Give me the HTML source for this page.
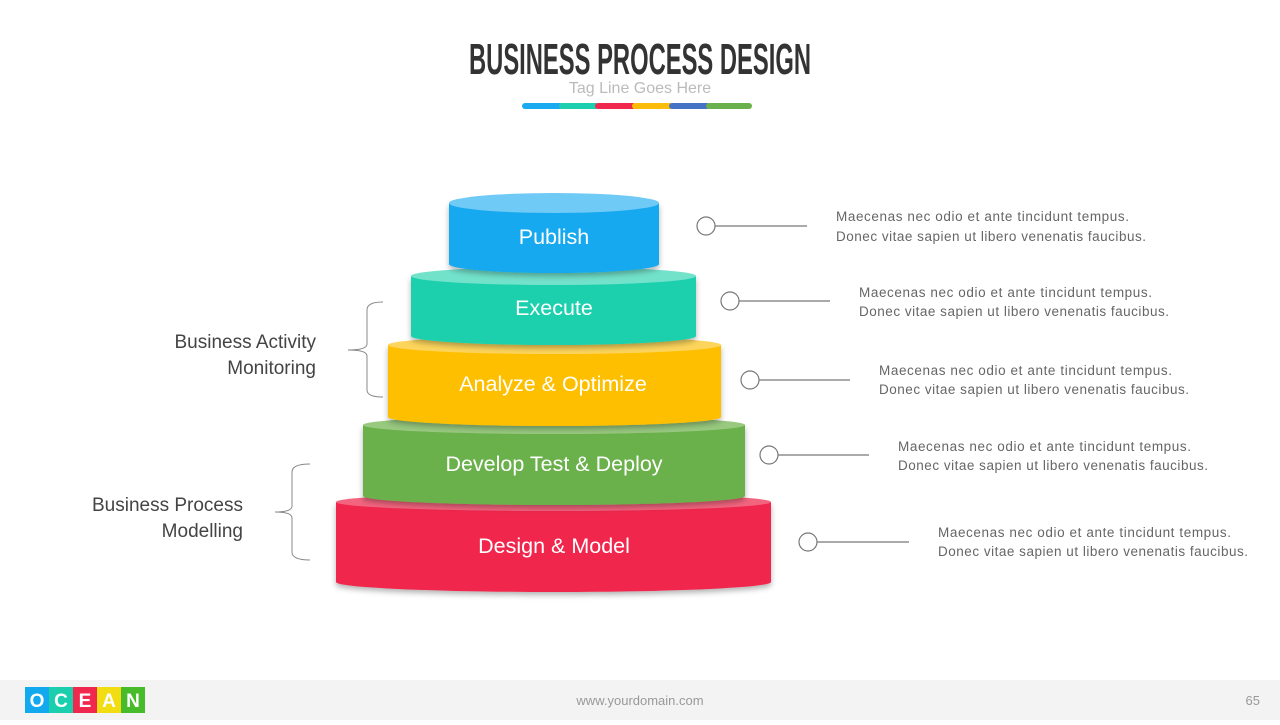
<!DOCTYPE html>
<html><head><meta charset="utf-8"><style>
body{margin:0;width:1280px;height:720px;background:#fff;overflow:hidden;font-family:"Liberation Sans",sans-serif}
</style></head><body>
<svg width="1280" height="720" viewBox="0 0 1280 720" xmlns="http://www.w3.org/2000/svg" font-family="Liberation Sans, DejaVu Sans, sans-serif">
<defs>
<filter id="sh" x="-10%" y="-20%" width="120%" height="150%"><feDropShadow dx="0" dy="3" stdDeviation="3" flood-color="#000" flood-opacity="0.3"/></filter>
</defs>
<text x="640" y="74" text-anchor="middle" font-size="44" font-weight="bold" fill="#333" textLength="342" lengthAdjust="spacingAndGlyphs">BUSINESS PROCESS DESIGN</text>
<text x="640" y="93" text-anchor="middle" font-size="16" fill="#bbb">Tag Line Goes Here</text>
<g stroke-width="6" stroke-linecap="round">
<line x1="525" y1="106" x2="560" y2="106" stroke="#1ba9ef"/>
<line x1="562" y1="106" x2="596" y2="106" stroke="#1dcfae"/>
<line x1="598" y1="106" x2="633" y2="106" stroke="#f0284d"/>
<line x1="635" y1="106" x2="670" y2="106" stroke="#fbbd09"/>
<line x1="672" y1="106" x2="707" y2="106" stroke="#4472c4"/>
<line x1="709" y1="106" x2="749" y2="106" stroke="#6ab04c"/>
</g>
<g filter="url(#sh)">
<path d="M336,502 L336,582 A217.5,10 0 0 0 771,582 L771,502 Z" fill="#f0284d"/>
</g>
<ellipse cx="553.5" cy="502" rx="217.5" ry="9" fill="#f3657f"/>
<g filter="url(#sh)">
<path d="M363,425 L363,496 A191,9 0 0 0 745,496 L745,425 Z" fill="#6ab04c"/>
</g>
<ellipse cx="554" cy="425" rx="191" ry="9" fill="#98c97f"/>
<g filter="url(#sh)">
<path d="M388,345 L388,417 A166.5,9 0 0 0 721,417 L721,345 Z" fill="#fdbf06"/>
</g>
<ellipse cx="554.5" cy="345" rx="166.5" ry="9" fill="#fdd55c"/>
<g filter="url(#sh)">
<path d="M411,276 L411,336 A142.5,9 0 0 0 696,336 L696,276 Z" fill="#1bd0ae"/>
</g>
<ellipse cx="553.5" cy="276" rx="142.5" ry="9" fill="#72e2cb"/>
<g filter="url(#sh)">
<path d="M449,203 L449,264 A105,9 0 0 0 659,264 L659,203 Z" fill="#12a9ef"/>
</g>
<ellipse cx="554" cy="203" rx="105" ry="10" fill="#6fcaf6"/>
<g fill="#fff" font-size="21.5" text-anchor="middle">
<text x="554" y="244">Publish</text>
<text x="554" y="315">Execute</text>
<text x="553" y="391">Analyze &amp; Optimize</text>
<text x="554" y="471">Develop Test &amp; Deploy</text>
<text x="554" y="553">Design &amp; Model</text>
</g>
<g fill="#fff" stroke="#777" stroke-width="1.2">
<line x1="715" y1="226" x2="807" y2="226"/><circle cx="706" cy="226" r="9"/>
<line x1="739" y1="301" x2="830" y2="301"/><circle cx="730" cy="301" r="9"/>
<line x1="759" y1="380" x2="850" y2="380"/><circle cx="750" cy="380" r="9"/>
<line x1="778" y1="455" x2="869" y2="455"/><circle cx="769" cy="455" r="9"/>
<line x1="817" y1="542" x2="909" y2="542"/><circle cx="808" cy="542" r="9"/>
</g>
<g fill="#666" font-size="13.5">
<text x="836" y="221" textLength="293">Maecenas nec odio et ante tincidunt tempus.</text><text x="836" y="241" textLength="310">Donec vitae sapien ut libero venenatis faucibus.</text>
<text x="859" y="297" textLength="293">Maecenas nec odio et ante tincidunt tempus.</text><text x="859" y="316" textLength="310">Donec vitae sapien ut libero venenatis faucibus.</text>
<text x="879" y="375" textLength="293">Maecenas nec odio et ante tincidunt tempus.</text><text x="879" y="394" textLength="310">Donec vitae sapien ut libero venenatis faucibus.</text>
<text x="898" y="451" textLength="293">Maecenas nec odio et ante tincidunt tempus.</text><text x="898" y="470" textLength="310">Donec vitae sapien ut libero venenatis faucibus.</text>
<text x="938" y="537" textLength="293">Maecenas nec odio et ante tincidunt tempus.</text><text x="938" y="556" textLength="310">Donec vitae sapien ut libero venenatis faucibus.</text>
</g>
<g fill="none" stroke="#888" stroke-width="1">
<path d="M383,302 Q367,302 367,310 L367,344 Q367,350 348,350 Q367,350 367,356 L367,390 Q367,397 383,397"/>
<path d="M310,464 Q292,464 292,472 L292,506 Q292,512 275,512 Q292,512 292,518 L292,552 Q292,560 310,560"/>
</g>
<g fill="#444" font-size="19" text-anchor="end">
<text x="316" y="348">Business Activity</text><text x="316" y="374">Monitoring</text>
<text x="243" y="511">Business Process</text><text x="243" y="537">Modelling</text>
</g>
<rect x="0" y="680" width="1280" height="40" fill="#f3f3f3"/>
<rect x="25" y="687" width="24" height="26" fill="#12a9ef"/>
<rect x="49" y="687" width="24" height="26" fill="#1bcfae"/>
<rect x="73" y="687" width="24" height="26" fill="#f0284d"/>
<rect x="97" y="687" width="24" height="26" fill="#f2dc12"/>
<rect x="121" y="687" width="24" height="26" fill="#47bb2a"/>
<g fill="#fff" font-size="19" font-weight="bold" text-anchor="middle">
<text x="37" y="707">O</text><text x="61" y="707">C</text><text x="85" y="707">E</text><text x="109" y="707">A</text><text x="133" y="707">N</text>
</g>
<text x="640" y="705" text-anchor="middle" font-size="13" fill="#999">www.yourdomain.com</text>
<text x="1260" y="705" text-anchor="end" font-size="13" fill="#999">65</text>
</svg>
</body></html>
